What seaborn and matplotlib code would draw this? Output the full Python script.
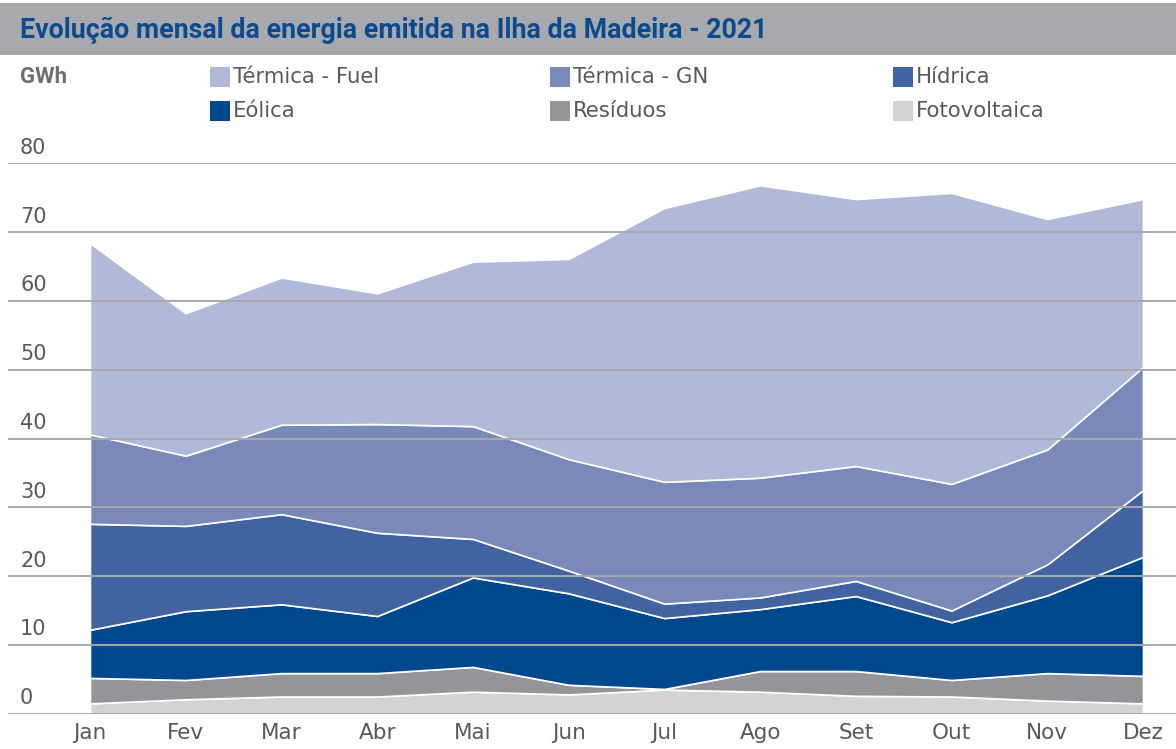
import numpy as np
import pandas as pd
import matplotlib
matplotlib.use("Agg")
import matplotlib.pyplot as plt
import matplotlib.transforms as mtransforms
from matplotlib.patches import Rectangle
import seaborn as sns

# Energia emitida por fonte, GWh
meses = ['Jan', 'Fev', 'Mar', 'Abr', 'Mai', 'Jun', 'Jul', 'Ago', 'Set', 'Out', 'Nov', 'Dez']
fotovoltaica = [1.5, 2.1, 2.5, 2.5, 3.2, 2.8, 3.5, 3.2, 2.6, 2.5, 1.9, 1.5]
residuos = [3.7, 2.8, 3.4, 3.4, 3.6, 1.4, 0.1, 3.0, 3.6, 2.4, 4.0, 4.0]
eolica = [7.0, 10.0, 10.0, 8.3, 13.0, 13.3, 10.3, 9.0, 10.9, 8.4, 11.3, 17.3]
hidrica = [15.4, 12.4, 13.1, 12.1, 5.6, 3.3, 2.1, 1.7, 2.2, 1.7, 4.5, 9.7]
termica_gn = [13.0, 10.2, 13.0, 15.8, 16.4, 16.2, 17.7, 17.4, 16.7, 18.4, 16.7, 17.9]
termica_fuel = [27.8, 20.7, 21.4, 19.0, 23.9, 29.1, 39.8, 42.5, 38.8, 42.3, 33.5, 24.4]
y_ticks = [0, 10, 20, 30, 40, 50, 60, 70, 80]

df = pd.DataFrame({
    'Fotovoltaica': fotovoltaica,
    'Resíduos': residuos,
    'Eólica': eolica,
    'Hídrica': hidrica,
    'Térmica - GN': termica_gn,
    'Térmica - Fuel': termica_fuel,
}, index=meses)

cores = {
    'Fotovoltaica': '#d1d3d4',
    'Resíduos': '#939598',
    'Eólica': '#00488e',
    'Hídrica': '#4163a0',
    'Térmica - GN': '#7889ba',
    'Térmica - Fuel': '#b0b9d8',
}

sns.set_theme(style='white')
plt.rcParams['font.family'] = ['DejaVu Sans']

W, H = 1176, 749
fig = plt.figure(figsize=(W / 100, H / 100), dpi=100)
fig.patch.set_facecolor('white')

# faixa do título
fig.patches.append(Rectangle((0, 1 - 55 / H), 1, 52 / H, transform=fig.transFigure,
                             facecolor='#a7a9ac', edgecolor='none', zorder=0))
fig.text(20 / W, 1 - 30 / H, 'Evolução mensal da energia emitida na Ilha da Madeira - 2021',
         family=['Roboto', 'DejaVu Sans'], fontweight='bold', fontsize=19.3,
         color='#0b4a8f', va='center', ha='left')

# área do gráfico
x0, x1 = 8, 1176
y_top, y_bot = 163.3, 713.7
ax = fig.add_axes([x0 / W, 1 - y_bot / H, (x1 - x0) / W, (y_bot - y_top) / H])
px_mes = (1143 - 90) / 11
ax.set_xlim((x0 - 90) / px_mes, (x1 - 90) / px_mes)
ax.set_ylim(0, 80)

x = np.arange(len(meses))
ax.stackplot(x, df.T.values, colors=[cores[c] for c in df.columns],
             edgecolor='white', linewidth=1.2, zorder=2)

for v in y_ticks:
    ax.axhline(v, color='#a7a9ac', lw=1.4, zorder=3)

for s in ax.spines.values():
    s.set_visible(False)

ax.set_yticks([])
ax.set_xticks(x)
ax.set_xticklabels(meses, fontsize=15.5, color='#58595b')
ax.tick_params(axis='x', length=0, pad=7)

# rótulos do eixo y acima das linhas
trans = mtransforms.blended_transform_factory(fig.transFigure, ax.transData)
trans = mtransforms.offset_copy(trans, fig=fig, y=4, units='points')
for v in y_ticks:
    ax.text(20 / W, v, str(v), transform=trans, fontsize=15, color='#58595b',
            ha='left', va='bottom', clip_on=False)

# legenda
fig.text(20 / W, 1 - 77 / H, 'GWh', fontsize=16, fontweight='bold',
         family=['Roboto', 'DejaVu Sans'], color='#6d6e71', va='center')
ordem = ['Térmica - Fuel', 'Térmica - GN', 'Hídrica', 'Eólica', 'Resíduos', 'Fotovoltaica']
col_x = [210, 550, 893]
row_y = [77, 111]
for i, nome in enumerate(ordem):
    cx = col_x[i % 3]
    cy = row_y[i // 3]
    fig.patches.append(Rectangle((cx / W, 1 - (cy + 10) / H), 20 / W, 20 / H,
                                 transform=fig.transFigure, facecolor=cores[nome],
                                 edgecolor='none'))
    fig.text((cx + 23) / W, 1 - cy / H, nome, fontsize=15.3, color='#58595b',
             va='center', ha='left')

fig.savefig('out.png', dpi=100)
